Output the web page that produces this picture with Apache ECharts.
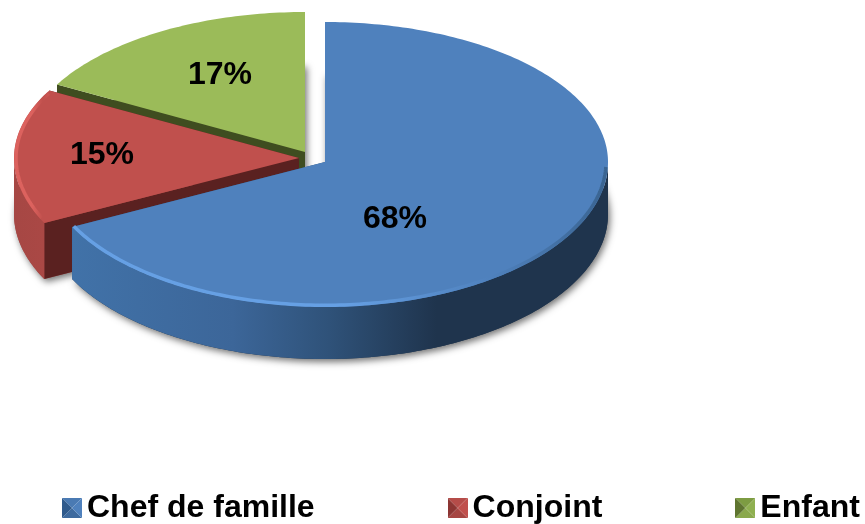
<!DOCTYPE html>
<html>
<head>
<meta charset="utf-8">
<style>html,body{margin:0;padding:0;background:#fff}#main{width:865px;height:524px}</style>
<script src="https://cdn.jsdelivr.net/npm/echarts@6/dist/echarts.min.js"></script>
</head>
<body>
<div id="main"></div>
<script>
const categories = ['Chef de famille', 'Conjoint', 'Enfant'];
const values = [67.6, 15.4, 17];

// exploded pie layout: each slice has its own apex
const apexX = [325, 299, 305];
const apexY = [162, 158, 152];
const depths = [52, 56, 52];
const radiiX = [283, 285, 283];
const ryBack = 140, ryFront = 145;

const looks = [
	{ top: '#4f81bd', rim: '#66a0e4', rimEnd: '#3a6491', cut: '#2f5278', bottom: '#1f344d',
		wall: [[0, '#4172a8'], [0.3, '#3c6699'], [0.48, '#2f5279'], [0.68, '#1f344d'], [1, '#1f344d']],
		icon: ['#4a7ab3', '#3e6a9e', '#2f5a8c', '#4f81bd'] },
	{ top: '#c0504d', rim: '#dc625e', rimEnd: '#cf5855', cut: '#5a2120', bottom: '#a64744',
		wall: [[0, '#a64744'], [1, '#aa4845']],
		icon: ['#b54c49', '#a64542', '#8c3533', '#c0504d'] },
	{ top: '#9bbb59', rim: '#9bbb59', rimEnd: '#9bbb59', cut: '#3f4d20', bottom: '#3f4d20',
		wall: [[0, '#3f4d20'], [1, '#3f4d20']],
		icon: ['#7d9c42', '#8aa94c', '#5f7530', '#8fb050'] }
];
const labelPos = [[395, 219], [102, 155], [220, 75]];

function point(i, deg, drop) {
	const a = deg * Math.PI / 180;
	const cos = Math.cos(a);
	return [
		apexX[i] + radiiX[i] * Math.sin(a),
		apexY[i] - cos * (cos > 0 ? ryBack : ryFront) + (drop || 0)
	];
}

function arc(i, from, to, drop) {
	const pts = [];
	for (let d = from; d < to; d += 1) pts.push(point(i, d, drop));
	pts.push(point(i, to, drop));
	return pts;
}

function legendIcon(look) {
	// bevelled square
	const c = document.createElement('canvas');
	c.width = 20; c.height = 20;
	const g = c.getContext('2d');
	const tri = (color, pts) => {
		g.fillStyle = color;
		g.beginPath();
		pts.forEach((p, k) => k ? g.lineTo(p[0], p[1]) : g.moveTo(p[0], p[1]));
		g.closePath();
		g.fill();
	};
	tri(look.icon[0], [[0, 0], [20, 0], [10, 10]]);
	tri(look.icon[1], [[0, 20], [20, 20], [10, 10]]);
	tri(look.icon[2], [[0, 0], [0, 20], [10, 10]]);
	tri(look.icon[3], [[20, 0], [20, 20], [10, 10]]);
	return 'image://' + c.toDataURL();
}

let start = 0;
const starts = values.map((v) => { const s = start; start += v; return s; });

function renderSlice(i) {
	return function (params, api) {
		const look = looks[i];
		const depth = depths[i];
		const a0 = api.value(1) * 3.6;
		const a1 = a0 + api.value(0) * 3.6;
		const apex = [apexX[i], apexY[i]];
		const apexLow = [apexX[i], apexY[i] + depth];
		const outerTop = arc(i, a0, a1);
		const children = [];

		// bottom face carries the soft shadow
		children.push({
			type: 'polygon',
			shape: { points: [apexLow].concat(arc(i, a0, a1, depth)) },
			style: {
				fill: look.bottom,
				shadowBlur: 7, shadowColor: 'rgba(0,0,0,0.55)', shadowOffsetX: 2, shadowOffsetY: 3
			}
		});

		// radial cut faces
		children.push({
			type: 'polygon',
			shape: { points: [apex, point(i, a0), point(i, a0, depth), apexLow] },
			style: { fill: look.cut }
		});
		children.push({
			type: 'polygon',
			shape: { points: [apex, point(i, a1), point(i, a1, depth), apexLow] },
			style: { fill: look.cut }
		});

		// outer wall, only the part facing the viewer
		const w0 = Math.max(a0, 90), w1 = Math.min(a1, 270);
		if (w1 > w0) {
			children.push({
				type: 'polygon',
				shape: { points: arc(i, w0, w1).concat(arc(i, w0, w1, depth).reverse()) },
				style: { fill: new echarts.graphic.LinearGradient(0, 0, 1, 0,
					look.wall.map((s) => ({ offset: s[0], color: s[1] }))) }
			});
		}

		// top face
		children.push({
			type: 'polygon',
			shape: { points: [apex].concat(outerTop) },
			style: { fill: look.top }
		});

		// bevel along the front rim
		if (w1 > w0) {
			const rim = arc(i, w0 + 2, a1 > 270 ? a1 - 1 : w1).map((p) => [
				p[0] + (apex[0] - p[0]) * 0.007,
				p[1] + (apex[1] - p[1]) * 0.012
			]);
			children.push({
				type: 'polyline',
				shape: { points: rim },
				style: {
					fill: null, lineWidth: 3.5,
					stroke: new echarts.graphic.LinearGradient(0, 0, 1, 0, [
						{ offset: 0, color: look.rim },
						{ offset: 0.5, color: look.rim },
						{ offset: 0.78, color: look.top },
						{ offset: 1, color: look.rimEnd }
					])
				}
			});
		}

		children.push({
			type: 'text',
			style: {
				x: labelPos[i][0], y: labelPos[i][1],
				text: Math.round(api.value(0)) + '%',
				fill: '#000',
				font: 'bold 32px "Liberation Sans", Arial, sans-serif',
				align: 'center', verticalAlign: 'middle'
			}
		});
		return { type: 'group', children: children };
	};
}

// back to front: green, red, blue
const series = [2, 1, 0].map((i) => ({
	type: 'custom',
	name: categories[i],
	coordinateSystem: 'none',
	silent: true,
	itemStyle: { color: looks[i].top },
	data: [[values[i], starts[i]]],
	renderItem: renderSlice(i)
}));

const chart = echarts.init(document.getElementById('main'));
chart.setOption({
	animation: false,
	backgroundColor: '#fff',
	legend: {
		left: 62,
		top: 492,
		padding: 0,
		itemGap: 133,
		itemWidth: 20,
		itemHeight: 20,
		textStyle: { fontSize: 32, fontWeight: 'bold', color: '#000', fontFamily: '"Liberation Sans", Arial, sans-serif' },
		data: categories.map((name, i) => ({ name: name, icon: legendIcon(looks[i]) }))
	},
	series: series
});
</script>
</body>
</html>
